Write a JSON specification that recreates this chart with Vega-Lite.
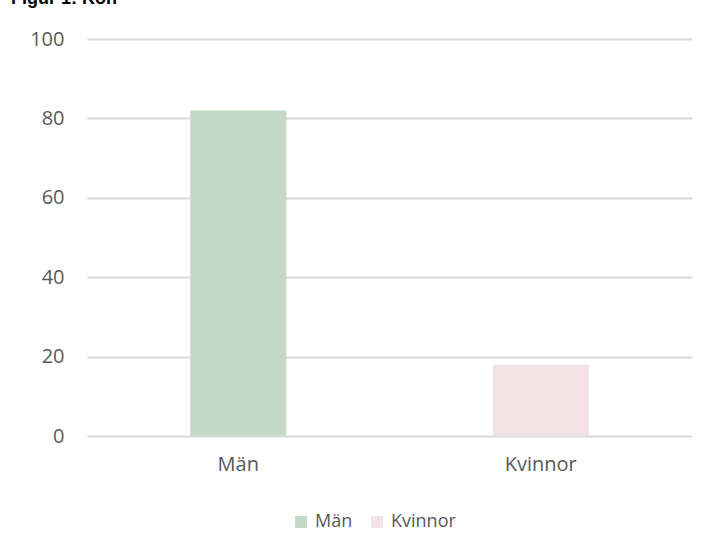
{
  "$schema": "https://vega.github.io/schema/vega-lite/v6.json",
  "autosize": "none",
  "width": 605,
  "height": 397,
  "padding": {"left": 87, "top": 39, "right": 20, "bottom": 112},
  "background": "white",
  "title": {
    "text": "Figur 1: Kön",
    "anchor": "start",
    "frame": "group",
    "baseline": "alphabetic",
    "offset": 20,
    "dy": 13,
    "dx": -76,
    "font": "Liberation Sans",
    "fontSize": 18,
    "fontWeight": "bold",
    "color": "#000000"
  },
  "data": {
    "values": [
      {"Kön": "Män", "Andel": 82},
      {"Kön": "Kvinnor", "Andel": 18}
    ]
  },
  "mark": {"type": "bar"},
  "encoding": {
    "x": {
      "field": "Kön",
      "type": "nominal",
      "sort": ["Män", "Kvinnor"],
      "scale": {"paddingInner": 0.6826, "paddingOuter": 0.3413},
      "axis": {
        "title": null,
        "labelAngle": 0,
        "domain": false,
        "ticks": false,
        "labelPadding": 18,
        "labelFont": "Open Sans",
        "labelFontSize": 20,
        "labelColor": "#595959"
      }
    },
    "y": {
      "field": "Andel",
      "type": "quantitative",
      "scale": {"domain": [0, 100]},
      "axis": {
        "title": null,
        "values": [0, 20, 40, 60, 80, 100],
        "domain": false,
        "ticks": false,
        "grid": true,
        "gridColor": "#D9D9D9",
        "gridWidth": 2,
        "labelPadding": 23,
        "labelFont": "Open Sans",
        "labelFontSize": 20,
        "labelColor": "#595959"
      }
    },
    "color": {
      "field": "Kön",
      "type": "nominal",
      "scale": {"domain": ["Män", "Kvinnor"], "range": ["#C5D9C8", "#F2E1E5"]},
      "legend": {
        "title": null,
        "orient": "none",
        "direction": "horizontal",
        "legendX": 205,
        "legendY": 474,
        "symbolType": "square",
        "symbolSize": 144,
        "symbolStrokeWidth": 0,
        "labelFont": "Open Sans",
        "labelFontSize": 18,
        "labelColor": "#595959",
        "labelOffset": 5,
        "columnPadding": 15
      }
    }
  },
  "config": {
    "view": {"stroke": null}
  }
}
